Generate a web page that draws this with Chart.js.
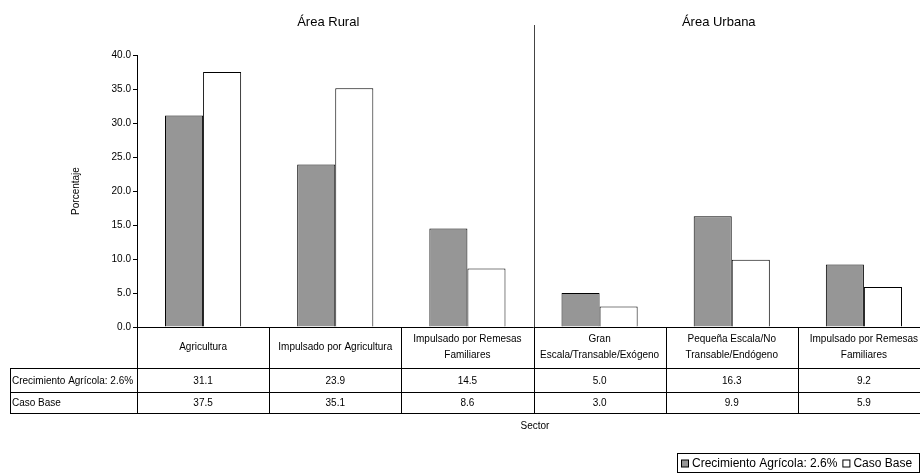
<!DOCTYPE html>
<html>
<head>
<meta charset="utf-8">
<script src="https://cdn.jsdelivr.net/npm/chart.js@4.4.0/dist/chart.umd.min.js"></script>
<style>
    html, body { margin: 0; padding: 0; background: #fff; overflow: hidden; }
    #wrap { width: 940px; height: 473px; }
</style>
</head>
<body>
<div id="wrap"><canvas id="grafico" width="940" height="473"></canvas></div>
<script>
// Sectores (etiquetas de categoría, en varias líneas)
const sectores = [
    ['Agricultura'],
    ['Impulsado por Agricultura'],
    ['Impulsado por Remesas', 'Familiares'],
    ['Gran', 'Escala/Transable/Exógeno'],
    ['Pequeña Escala/No', 'Transable/Endógeno'],
    ['Impulsado por Remesas', 'Familiares']
];
const crecimiento = [31.1, 23.9, 14.5, 5.0, 16.3, 9.2];
const casoBase = [37.5, 35.1, 8.6, 3.0, 9.9, 5.9];
const areas = ['Área Rural', 'Área Urbana'];
const nombresSeries = ['Crecimiento Agrícola: 2.6%', 'Caso Base'];

const FONT = '"Liberation Sans", Arial, sans-serif';

// Tabla de datos, títulos de área, separador y leyenda
const tablaPlugin = {
    id: 'tablaDatos',
    afterDraw(chart) {
        const ctx = chart.ctx;
        const area = chart.chartArea;
        const x = chart.scales.x;
        const n = sectores.length;
        const colW = (area.right - area.left) / n;
        const tableLeft = 10;
        const rows = [area.bottom, 368, 392, 413];

        ctx.save();
        ctx.strokeStyle = '#000';
        ctx.lineWidth = 1;
        ctx.fillStyle = '#000';

        // lineas horizontales
        ctx.beginPath();
        ctx.moveTo(area.left, Math.round(rows[0]) + 0.5);
        ctx.lineTo(area.right, Math.round(rows[0]) + 0.5);
        for (let r = 1; r < rows.length; r++) {
            ctx.moveTo(tableLeft, rows[r] + 0.5);
            ctx.lineTo(area.right, rows[r] + 0.5);
        }
        // lineas verticales
        for (let i = 0; i <= n; i++) {
            const bx = Math.round(area.left + i * colW) + 0.5;
            ctx.moveTo(bx, rows[0]);
            ctx.lineTo(bx, rows[3] + 0.5);
        }
        ctx.moveTo(tableLeft + 0.5, rows[1]);
        ctx.lineTo(tableLeft + 0.5, rows[3] + 0.5);
        ctx.stroke();

        // separador rural / urbano
        const sep = Math.round(area.left + 3 * colW) + 0.5;
        ctx.strokeStyle = '#444';
        ctx.beginPath();
        ctx.moveTo(sep, 25);
        ctx.lineTo(sep, area.bottom);
        ctx.stroke();

        // texto de la tabla
        ctx.font = '10px ' + FONT;
        ctx.textAlign = 'center';
        ctx.textBaseline = 'middle';
        sectores.forEach((lineas, i) => {
            const cx = x.getPixelForValue(i);
            const mid = (rows[0] + rows[1]) / 2;
            lineas.forEach((t, k) => {
                ctx.fillText(t, cx, mid + (k - (lineas.length - 1) / 2) * 16);
            });
            ctx.fillText(crecimiento[i].toFixed(1), cx, (rows[1] + rows[2]) / 2 + 1);
            ctx.fillText(casoBase[i].toFixed(1), cx, (rows[2] + rows[3]) / 2 + 1);
        });
        ctx.textAlign = 'left';
        ctx.fillText(nombresSeries[0], tableLeft + 2, (rows[1] + rows[2]) / 2 + 1);
        ctx.fillText(nombresSeries[1], tableLeft + 2, (rows[2] + rows[3]) / 2 + 1);

        // titulo del eje x
        ctx.textAlign = 'center';
        ctx.fillText('Sector', 535, 426);

        // titulos de area
        ctx.font = '13px ' + FONT;
        ctx.fillText(areas[0], x.getPixelForValue(1) - 7, 22);
        ctx.fillText(areas[1], x.getPixelForValue(4) - 13, 22);

        // leyenda
        const lx = 677, ly = 453, lw = 242, lh = 19;
        ctx.strokeStyle = '#000';
        ctx.strokeRect(lx + 0.5, ly + 0.5, lw, lh);
        ctx.font = '12px ' + FONT;
        ctx.textAlign = 'left';
        let px = lx + 4;
        const cy = ly + lh / 2 + 1;
        chart.data.datasets.forEach((ds) => {
            ctx.fillStyle = ds.backgroundColor;
            ctx.fillRect(px + 0.5, cy - 4 + 0.5, 7, 7);
            ctx.strokeRect(px + 0.5, cy - 4 + 0.5, 7, 7);
            ctx.fillStyle = '#000';
            ctx.fillText(ds.label, px + 11, cy);
            px += 11 + ctx.measureText(ds.label).width + 5;
        });
        ctx.restore();
    }
};

new Chart(document.getElementById('grafico'), {
    type: 'bar',
    data: {
        labels: sectores,
        datasets: [
            {
                label: nombresSeries[0],
                data: crecimiento,
                backgroundColor: '#969696',
                borderColor: '#000',
                borderWidth: 1,
            },
            {
                label: nombresSeries[1],
                data: casoBase,
                backgroundColor: '#ffffff',
                borderColor: '#000',
                borderWidth: 1,
            },
        ],
    },
    options: {
        responsive: false,
        animation: false,
        layout: { padding: { left: 0, top: 55, right: 10, bottom: 146 } },
        datasets: { bar: { categoryPercentage: 0.576, barPercentage: 1.0 } },
        plugins: {
            legend: { display: false },
            tooltip: { enabled: false },
        },
        scales: {
            x: { display: false },
            y: {
                min: 0,
                max: 40,
                ticks: {
                    stepSize: 5,
                    padding: 2,
                    color: '#000',
                    font: { size: 10, family: FONT },
                    callback: (v) => v.toFixed(1),
                },
                grid: { drawOnChartArea: false, tickLength: 4, color: '#000' },
                border: { color: '#000' },
                title: {
                    display: true,
                    text: 'Porcentaje',
                    color: '#000',
                    font: { size: 10, family: FONT },
                    padding: { top: 70, bottom: 0 },
                },
                afterFit(scale) { scale.width = 137; },
            },
        },
    },
    plugins: [tablaPlugin],
});
</script>
</body>
</html>
